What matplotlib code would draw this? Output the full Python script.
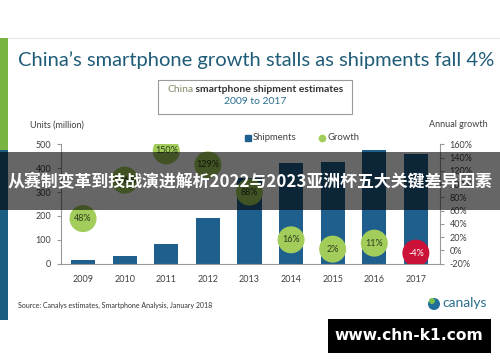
import matplotlib
matplotlib.use("Agg")
import matplotlib.pyplot as plt
from matplotlib.transforms import Affine2D
from matplotlib.patches import Rectangle, Circle
from matplotlib.lines import Line2D
from matplotlib.text import Annotation

years = ['2009', '2010', '2011', '2012', '2013', '2014', '2015', '2016', '2017']
shipments = [15, 33, 82, 190, 358, 420, 427, 476, 459]
growth = [48, 106, 150, 129, 88, 16, 2, 11, -4]
left_ticks = [0, 100, 200, 300, 400, 500]
right_ticks = [-20, 0, 20, 40, 60, 80, 100, 120, 140, 160]

title = "China\u2019s smartphone growth stalls as shipments fall 4%"
banner = "从赛制变革到技战演进解析2022与2023亚洲杯五大关键差异因素"
watermark = "www.chn-k1.com"
source = "Source: Canalys estimates, Smartphone Analysis, January 2018"

W, H = 500, 362
FONT = ['Lato', 'DejaVu Sans']
BAR = '#1f5f8d'
GREEN = '#a3cd5b'
RED = '#cc1139'
TEAL = '#1f5c78'
GRAY = '#404040'

fig = plt.figure(figsize=(W / 100, H / 100), dpi=100)
fig.patch.set_facecolor('white')
P = Affine2D().scale(0.01, -0.01).translate(0, H / 100) + fig.dpi_scale_trans

# slide left strip
fig.add_artist(Rectangle((0, 38), 8, 112, transform=P, color='#79b443', lw=0))
fig.add_artist(Rectangle((0, 150), 8, 170, transform=P, color='#1c5d82', lw=0))
fig.add_artist(Line2D([8, 500], [38, 38], transform=P, color='#e6e6e6', lw=0.8))

# title
fig.text(18 / W, 1 - 60 / H, title, fontsize=14.5, color=TEAL, family=FONT,
         ha='left', va='center')

# subtitle box
fig.add_artist(Rectangle((158, 80), 194, 34, transform=P, facecolor='white',
                         edgecolor='#9a9a9a', lw=0.8))
t1 = fig.text(167 / W, 1 - 90 / H, "China", fontsize=7.5, color='#8a8a6a', family=FONT,
              ha='left', va='center')
fig.add_artist(Annotation(" smartphone shipment estimates", xy=(1, 0.5), xycoords=t1,
                          xytext=(0, 0), textcoords='offset points', fontsize=7.5,
                          color='#333333', family=FONT, weight='bold',
                          ha='left', va='center'))
fig.text(255 / W, 1 - 102 / H, "2009 to 2017", fontsize=7.5, color='#2a6f8f',
         family=FONT, ha='center', va='center')

# axes
ax = fig.add_axes([61 / W, 1 - 263.7 / H, (440 - 61) / W, (263.7 - 144.3) / H])
ax.set_facecolor('none')
x = list(range(len(years)))
ax.bar(x, shipments, width=0.58, color=BAR, zorder=2)
ax.set_xlim(-0.53, 8.58)
ax.set_ylim(0, 500)
ax.set_yticks(left_ticks)
ax.set_yticklabels([str(t) for t in left_ticks], fontsize=6.5, color=GRAY, family=FONT)
ax.set_xticks(x)
ax.set_xticklabels(years, fontsize=6.5, color=GRAY, family=FONT)
ax.tick_params(axis='x', length=0, pad=8)
ax.tick_params(axis='y', length=3, color='#999999', pad=4)
for s in ['top', 'right']:
    ax.spines[s].set_visible(False)
for s in ['left', 'bottom']:
    ax.spines[s].set_color('#999999')
    ax.spines[s].set_linewidth(0.8)

ax2 = ax.twinx()
ax2.set_ylim(-20, 160)
ax2.set_yticks(right_ticks)
ax2.set_yticklabels([f"{t}%" for t in right_ticks], fontsize=6.5, color=GRAY, family=FONT)
ax2.tick_params(axis='y', length=3, color='#999999', pad=4)
for s in ['top', 'left', 'bottom']:
    ax2.spines[s].set_visible(False)
ax2.spines['right'].set_color('#999999')
ax2.spines['right'].set_linewidth(0.8)
colors = [RED if g < 0 else GREEN for g in growth]
ax2.scatter(x, growth, s=378, c=colors, zorder=3, linewidths=0)
for xi, g in zip(x, growth):
    ax2.text(xi, g, f"{g}%", ha='center', va='center', fontsize=6.5,
             color='white' if g < 0 else '#2d3a1e', family=FONT, zorder=4)

fig.text(30 / W, 1 - 125 / H, "Units (million)", fontsize=6.5, color=GRAY,
         family=FONT, ha='left', va='center')
fig.text(488 / W, 1 - 125 / H, "Annual growth", fontsize=6.5, color=GRAY,
         family=FONT, ha='right', va='center')

# legend
fig.add_artist(Line2D([248], [138], transform=P, marker='s', color=BAR, ms=4.5, lw=0))
fig.text(253 / W, 1 - 138 / H, "Shipments", fontsize=6.8, color=GRAY, family=FONT,
         ha='left', va='center')
fig.add_artist(Line2D([322], [138], transform=P, marker='o', color=GREEN, ms=4.5, lw=0))
fig.text(327 / W, 1 - 138 / H, "Growth", fontsize=6.8, color=GRAY, family=FONT,
         ha='left', va='center')

# source and logo
fig.text(18 / W, 1 - 305 / H, source, fontsize=5, color='#333333', family=FONT,
         ha='left', va='center')
fig.add_artist(Circle((434, 304), 6, transform=P, color='#1f6f9a', lw=0))
fig.add_artist(Circle((432, 301), 3, transform=P, color='#7cc04b', lw=0))
fig.text(442 / W, 1 - 303 / H, "canalys", fontsize=10, color='#2a6f8f', family=FONT,
         ha='left', va='center')

# overlay banner
fig.add_artist(Rectangle((0, 152), 500, 58, transform=P, color='black', alpha=0.6,
                         lw=0, zorder=10))
fig.text(250 / W, 1 - 181 / H, banner, fontsize=12.2, color='white', weight='bold',
         family=['Noto Sans CJK SC', 'DejaVu Sans'], ha='center', va='center', zorder=11)

# watermark
fig.add_artist(Rectangle((328, 319), 163, 34, transform=P, color='black', lw=0, zorder=10))
fig.text(409 / W, 1 - 336 / H, watermark, fontsize=11.2, color='white', weight='bold',
         family=['DejaVu Sans'], ha='center', va='center', zorder=11)

fig.savefig('out.png', dpi=100, facecolor='white')
